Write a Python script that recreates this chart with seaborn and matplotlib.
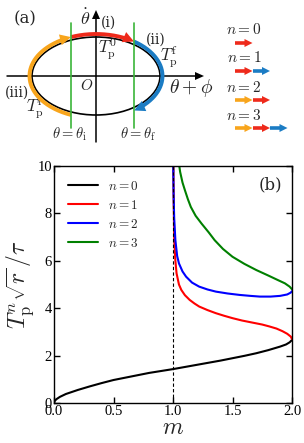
import numpy as np
import pandas as pd
import matplotlib
matplotlib.use("Agg")
import matplotlib.pyplot as plt
from matplotlib.patches import Polygon, Ellipse
import seaborn as sns

# ---------------- data (panel b) ----------------
m_n0 = [0.0, 0.005, 0.02, 0.05, 0.1, 0.2, 0.3, 0.4, 0.5, 0.6, 0.7, 0.8, 0.9, 1.0,
        1.1, 1.2, 1.3, 1.4, 1.5, 1.6, 1.7, 1.8, 1.9, 1.95, 1.98, 2.0]
t_n0 = [0.0, 0.08, 0.16, 0.26, 0.38, 0.55, 0.70, 0.84, 0.97, 1.07, 1.17, 1.27, 1.35, 1.43,
        1.52, 1.61, 1.70, 1.79, 1.89, 1.99, 2.10, 2.23, 2.38, 2.47, 2.56, 2.66]

m_n1 = [1.003, 1.006, 1.01, 1.02, 1.03, 1.05, 1.07, 1.1, 1.14, 1.18, 1.22, 1.29, 1.36,
        1.43, 1.5, 1.58, 1.67, 1.75, 1.81, 1.87, 1.92, 1.96, 1.99, 2.0]
t_n1 = [10.0, 8.4, 6.9, 6.0, 5.47, 5.0, 4.77, 4.55, 4.35, 4.2, 4.07, 3.92, 3.79,
        3.68, 3.58, 3.48, 3.39, 3.31, 3.23, 3.14, 3.03, 2.92, 2.80, 2.70]

m_n2 = [1.002, 1.005, 1.01, 1.02, 1.035, 1.05, 1.08, 1.11, 1.16, 1.22, 1.29, 1.36, 1.46,
        1.56, 1.65, 1.73, 1.82, 1.9, 1.96, 1.99, 2.0]
t_n2 = [10.0, 8.8, 7.8, 6.87, 6.2, 5.89, 5.55, 5.33, 5.08, 4.91, 4.79, 4.70, 4.62,
        4.56, 4.52, 4.49, 4.49, 4.52, 4.58, 4.66, 4.72]

m_n3 = [1.053, 1.06, 1.08, 1.1, 1.125, 1.15, 1.19, 1.24, 1.3, 1.35, 1.42, 1.5, 1.6,
        1.7, 1.8, 1.88, 1.94, 1.98, 2.0]
t_n3 = [10.0, 9.75, 9.3, 8.98, 8.6, 8.27, 7.9, 7.57, 7.2, 6.87, 6.5, 6.17, 5.87,
        5.61, 5.38, 5.19, 5.05, 4.91, 4.80]

labels = ["$n=0$", "$n=1$", "$n=2$", "$n=3$"]
colors = ["black", "red", "blue", "green"]
m_critical = 1.0

x_ticks = [0.0, 0.5, 1.0, 1.5, 2.0]
x_ticklabels = ["0.0", "0.5", "1.0", "1.5", "2.0"]
y_ticks = [0, 2, 4, 6, 8, 10]

df = pd.concat([
    pd.DataFrame({"m": m, "T": t, "series": lab})
    for m, t, lab in zip([m_n0, m_n1, m_n2, m_n3], [t_n0, t_n1, t_n2, t_n3], labels)
], ignore_index=True)

# ---------------- style ----------------
sns.set_style("ticks")
plt.rcParams["font.family"] = ["Liberation Serif", "DejaVu Serif"]
plt.rcParams["mathtext.fontset"] = "cm"
plt.rcParams["axes.linewidth"] = 1.0

fig = plt.figure(figsize=(3.04, 4.43), dpi=100)

# ---------------- panel (b) ----------------
W, H = 304, 443
axb = fig.add_axes([54 / W, (H - 403) / H, 238 / W, 237 / H])
sns.lineplot(data=df, x="m", y="T", hue="series", hue_order=labels,
             palette=colors, estimator=None, sort=False, lw=1.5, ax=axb)
axb.axvline(m_critical, color="black", ls="--", lw=0.8, dashes=(3, 2))
axb.set_xlim(0, 2)
axb.set_ylim(0, 10)
axb.set_xticks(x_ticks)
axb.set_xticklabels(x_ticklabels)
axb.set_yticks(y_ticks)
axb.tick_params(direction="in", top=True, right=True, length=4, width=1,
                labelsize=10.5, pad=1.5, colors="black")
axb.set_xlabel("$m$", fontsize=17, labelpad=0)
axb.set_ylabel(r"$T_{\rm p}^{n}\sqrt{r}\,/\tau$", fontsize=17, labelpad=1)
axb.text(0.96, 0.955, "(b)", transform=axb.transAxes, ha="right", va="top",
         fontsize=12, family="DejaVu Serif")
sns.move_legend(axb, "upper left", frameon=False, title=None, fontsize=9.5,
                handlelength=2.3, handletextpad=0.7, labelspacing=0.45,
                borderaxespad=0.3, bbox_to_anchor=(0.02, 0.98))
for s in axb.spines.values():
    s.set_color("black")

# ---------------- panel (a): schematic ----------------
TOP_H = 145
axa = fig.add_axes([0, (H - TOP_H) / H, 1, TOP_H / H])
axa.set_xlim(0, W)
axa.set_ylim(TOP_H, 0)
axa.axis("off")

cx, cy = 96, 76
ea, eb = 64, 39
aa, ab = 66.5, 42
red_c, blue_c, orange_c, green_c = "#ee2a1b", "#1b7cc4", "#f8a51c", "#3bb53a"


def head(ax, tip, d, length, width, color):
    d = np.asarray(d, float)
    d = d / np.hypot(*d)
    n = np.array([-d[1], d[0]])
    tip = np.asarray(tip, float)
    base = tip - d * length
    ax.add_patch(Polygon([tip, base + n * width / 2, base - n * width / 2],
                         closed=True, color=color, lw=0, zorder=5))


def arc(ax, t0, t1, color, lw=2.8, hl=11, hw=11):
    tt = np.radians(np.linspace(t0, t1, 200))
    x = cx + aa * np.cos(tt)
    y = cy - ab * np.sin(tt)
    tip = np.array([x[-1], y[-1]])
    dist = np.hypot(x - tip[0], y - tip[1])
    keep = dist >= hl * 0.7
    ax.plot(x[keep], y[keep], color=color, lw=lw, solid_capstyle="butt", zorder=4)
    t_end = np.radians(t1)
    d = np.array([aa * np.sin(t_end), ab * np.cos(t_end)])
    head(ax, tip, d, hl, hw, color)


# axes with arrows
axa.plot([7, 196], [cy, cy], color="black", lw=1.1, zorder=2)
head(axa, (204, cy), (1, 0), 9, 8, "black")
axa.plot([cx, cx], [142, 18], color="black", lw=1.1, zorder=2)
head(axa, (cx, 10), (0, -1), 9, 8, "black")

axa.add_patch(Ellipse((cx, cy), 2 * ea, 2 * eb, fill=False, ec="black", lw=1.2, zorder=3))

xi, xf = 71, 134
for xg in (xi, xf):
    axa.plot([xg, xg], [23, 128], color=green_c, lw=1.2, zorder=6)

ti = np.degrees(np.arccos((xi - cx) / aa))
tf = np.degrees(np.arccos((xf - cx) / aa))
arc(axa, ti, tf, red_c)
arc(axa, tf, -tf, blue_c)
arc(axa, 360 - ti, ti, orange_c)

axa.text(25, 19, "(a)", ha="center", va="center", fontsize=12, family="DejaVu Serif")
axa.text(85, 19, r"$\dot{\theta}$", ha="center", va="center", fontsize=13)
axa.text(108, 23, "(i)", ha="center", va="center", fontsize=10, family="DejaVu Serif")
axa.text(108, 49, r"$T_{\rm p}^{0}$", ha="center", va="center", fontsize=12)
axa.text(156, 40, "(ii)", ha="center", va="center", fontsize=10, family="DejaVu Serif")
axa.text(169, 57, r"$T_{\rm p}^{\rm f}$", ha="center", va="center", fontsize=12)
axa.text(191, 88, r"$\theta+\phi$", ha="center", va="center", fontsize=14)
axa.text(87, 85, r"$O$", ha="center", va="center", fontsize=11)
axa.text(17, 93, "(iii)", ha="center", va="center", fontsize=10, family="DejaVu Serif")
axa.text(35, 108, r"$T_{\rm p}^{\rm i}$", ha="center", va="center", fontsize=12)
axa.text(69, 134, r"$\theta=\theta_{\rm i}$", ha="center", va="center", fontsize=10.5)
axa.text(138, 134, r"$\theta=\theta_{\rm f}$", ha="center", va="center", fontsize=10.5)

# right-hand legend of arrow sequences
seq_labels = ["$n=0$", "$n=1$", "$n=2$", "$n=3$"]
seq_colors = [[red_c], [red_c, blue_c], [orange_c, red_c], [orange_c, red_c, blue_c]]
label_y = [30, 58, 87, 115]
for lab, cols, ly in zip(seq_labels, seq_colors, label_y):
    axa.text(244, ly, lab, ha="center", va="center", fontsize=11)
    ay = ly + 13
    for k, c in enumerate(cols):
        x0 = 235 + 17.5 * k
        axa.plot([x0, x0 + 10], [ay, ay], color=c, lw=2.6, solid_capstyle="butt", zorder=4)
        head(axa, (x0 + 17.5, ay), (1, 0), 8, 8, c)

fig.savefig("out.png", dpi=100)
